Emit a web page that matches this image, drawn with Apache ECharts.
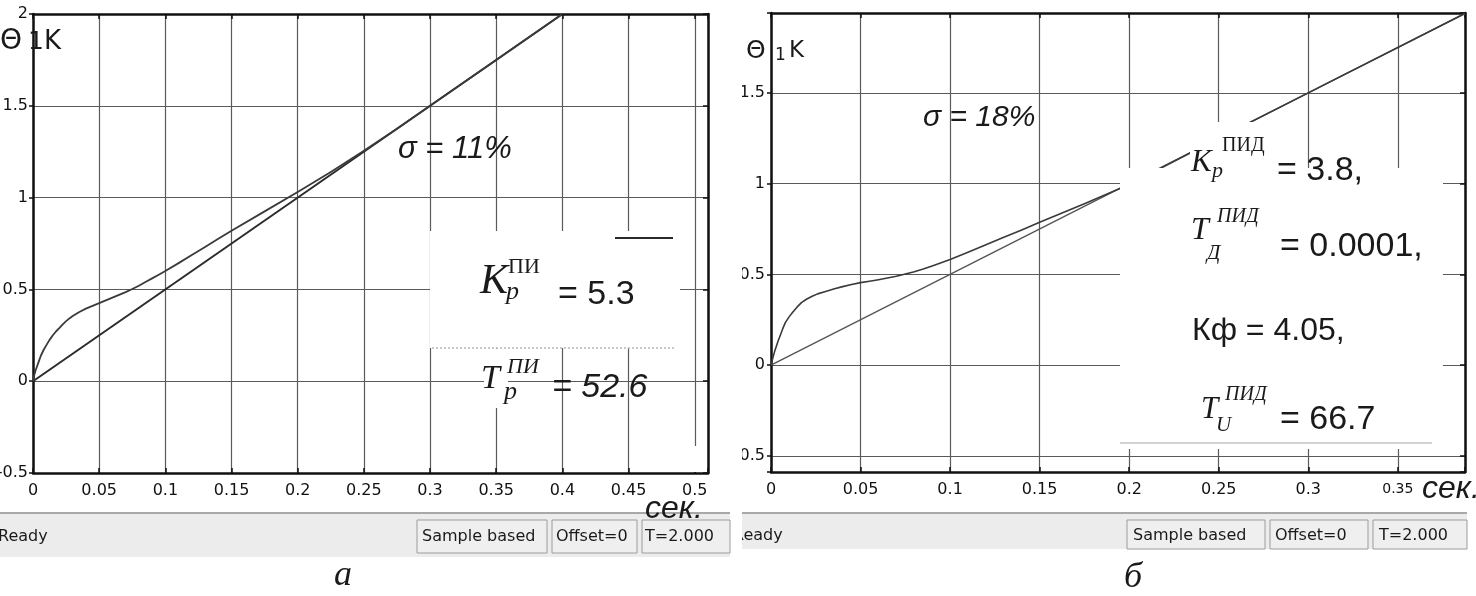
<!DOCTYPE html>
<html>
<head>
<meta charset="utf-8">
<script src="https://cdn.jsdelivr.net/npm/echarts@6/dist/echarts.min.js"></script>
<style>
html,body{margin:0;padding:0;background:#fff;}
#chart{width:1476px;height:596px;}
</style>
</head>
<body>
<div id="chart"></div>
<script>
// ---- data ----
// (а) PI controller
const leftTime = [0, 0.001, 0.002, 0.003, 0.004, 0.005, 0.006, 0.008, 0.01, 0.0125, 0.015, 0.0175, 0.02, 0.0225, 0.025, 0.0275, 0.03, 0.035, 0.04, 0.045, 0.05, 0.055, 0.06, 0.065, 0.07, 0.075, 0.08, 0.085, 0.09, 0.095, 0.1, 0.11, 0.12, 0.13, 0.14, 0.15, 0.175, 0.2, 0.225, 0.25, 0.275, 0.3, 0.35, 0.4];
const leftResponse = [0, 0.035, 0.06, 0.08, 0.1, 0.12, 0.14, 0.17, 0.195, 0.225, 0.25, 0.272, 0.29, 0.31, 0.327, 0.342, 0.355, 0.377, 0.395, 0.41, 0.425, 0.44, 0.455, 0.47, 0.485, 0.502, 0.52, 0.54, 0.56, 0.58, 0.6, 0.643, 0.687, 0.731, 0.776, 0.82, 0.925, 1.03, 1.14, 1.255, 1.375, 1.5, 1.75, 2.0];
const leftRampTime = [0, 0.4];
const leftRamp = [0, 2.0];
// (б) PID controller
const rightTime = [0, 0.001, 0.002, 0.003, 0.004, 0.005, 0.0065, 0.008, 0.01, 0.012, 0.0145, 0.017, 0.02, 0.023, 0.026, 0.03, 0.035, 0.04, 0.045, 0.05, 0.055, 0.06, 0.065, 0.07, 0.075, 0.08, 0.085, 0.09, 0.095, 0.1, 0.11, 0.12, 0.13, 0.14, 0.15, 0.175, 0.2, 0.25, 0.3, 0.3875];
const rightResponse = [0, 0.04, 0.075, 0.105, 0.135, 0.16, 0.2, 0.235, 0.265, 0.29, 0.32, 0.345, 0.365, 0.38, 0.393, 0.405, 0.42, 0.433, 0.445, 0.455, 0.463, 0.471, 0.48, 0.49, 0.502, 0.515, 0.53, 0.547, 0.565, 0.583, 0.622, 0.663, 0.705, 0.745, 0.787, 0.89, 0.995, 1.25, 1.5, 1.9375];
const rightRampTime = [0, 0.3875];
const rightRamp = [0, 1.9375];
// axis ranges
const leftX = [0, 0.51], leftY = [-0.5, 2];
const rightX = [0, 0.3875], rightY = [-0.588, 1.94];

const pairs = (xs, ys) => xs.map((x, i) => [x, ys[i]]);

const labelFont = {fontFamily: 'DejaVu Sans', fontSize: 16, color: '#111'};
const gridLine = {show: true, lineStyle: {color: '#5a5a5a', width: 1.2}};
const frame = {show: true, onZero: false, lineStyle: {color: '#111', width: 2.5}};
const isMult = (v, step) => Math.abs(v / step - Math.round(v / step)) < 1e-6;

function xFmt(v) { return isMult(v, 0.05) ? String(+v.toFixed(2)) : ''; }
function yFmt(v) { return isMult(v, 0.5) ? String(+v.toFixed(1)) : ''; }

const chart = echarts.init(document.getElementById('chart'), null, {renderer: 'canvas'});

const T = (text, x, y, font, extra) => Object.assign({
  type: 'text', x: x, y: y, z: 60,
  style: {text: text, font: font, fill: '#1a1a1a', align: 'left', verticalAlign: 'middle'}
}, extra || {});
const R = (x, y, w, h, fill, z, stroke) => ({
  type: 'rect', z: z || 50, shape: {x: x, y: y, width: w, height: h},
  style: {fill: fill, stroke: stroke || null, lineWidth: 1}
});
const L = (x1, y1, x2, y2, stroke, w, dash, z) => ({
  type: 'line', z: z || 55, shape: {x1: x1, y1: y1, x2: x2, y2: y2},
  style: {stroke: stroke, lineWidth: w, lineDash: dash || null}
});

const serifI = (s) => 'italic ' + s + 'px "Liberation Serif"';
const serif = (s) => s + 'px "Liberation Serif"';
const sans = (s) => s + 'px "Liberation Sans"';
const sansI = (s) => 'italic ' + s + 'px "Liberation Sans"';
const dv = (s) => s + 'px "DejaVu Sans"';

const graphics = [
  // overlays of the pasted formula pictures (left)
  R(430, 231, 250, 117, '#fff'),
  R(484, 349, 24, 59, '#fff'),
  R(689, 446, 10, 26, '#fff'),
  L(615, 238, 673, 238, '#2a2a2a', 2),
  L(432, 348, 675, 348, '#b8b8b8', 1.5, [2, 2]),
  // overlays (right)
  R(1120, 168, 323, 281, '#fff'),
  R(1190, 122, 110, 46, '#fff'),
  L(1120, 443, 1432, 443, '#c4c4c4', 1.5),

  // status bars
  R(0, 513, 730, 44, '#ececec', 40),
  L(0, 513, 730, 513, '#a8a8a8', 2, null, 41),
  R(417, 520, 130, 33, '#efefef', 41, '#9c9c9c'),
  R(552, 520, 85, 33, '#efefef', 41, '#9c9c9c'),
  R(642, 520, 88, 33, '#efefef', 41, '#9c9c9c'),
  T('Ready', -2, 537, dv(16)),
  T('Sample based', 422, 537, dv(16)),
  T('Offset=0', 556, 537, dv(16)),
  T('T=2.000', 645, 537, dv(16)),

  R(737, 513, 730, 36, '#ececec', 40),
  L(737, 513, 1467, 513, '#a8a8a8', 2, null, 41),
  R(1127, 520, 138, 29, '#efefef', 41, '#9c9c9c'),
  R(1270, 520, 98, 29, '#efefef', 41, '#9c9c9c'),
  R(1373, 520, 94, 29, '#efefef', 41, '#9c9c9c'),
  T('Ready', 733, 536, dv(16)),
  T('Sample based', 1133, 536, dv(16)),
  T('Offset=0', 1275, 536, dv(16)),
  T('T=2.000', 1379, 536, dv(16)),

  // axis titles
  T('Θ', 0, 42, dv(28)),
  T('1', 28, 42, dv(25)),
  T('K', 44, 42, dv(26)),
  T('Θ', 746, 51, dv(25)),
  T('1', 775, 56, dv(17)),
  T('K', 789, 51, dv(23)),
  T('сек.', 645, 509, sansI(32)),
  T('сек.', 1422, 489, sansI(32)),

  // left annotations
  T('σ = 11%', 398, 149, sansI(31)),
  T('K', 480, 282, serifI(42)),
  T('ПИ', 508, 267, serif(22)),
  T('p', 506, 292, serifI(26)),
  T('= 5.3', 558, 295, sans(34)),
  T('T', 481, 379, serifI(34)),
  T('ПИ', 507, 367, serifI(22)),
  T('p', 504, 392, serifI(26)),
  T('= 52.6', 552, 388, sansI(34)),

  // right annotations
  T('σ = 18%', 923, 118, sansI(30)),
  T('K', 1191, 163, serifI(31)),
  T('ПИД', 1222, 146, serif(20)),
  T('p', 1212, 171, serifI(22)),
  T('= 3.8,', 1277, 171, sans(34)),
  T('T', 1191, 231, serifI(32)),
  T('ПИД', 1217, 217, serifI(20)),
  T('Д', 1207, 253, serifI(21)),
  T('= 0.0001,', 1280, 247, sans(34)),
  T('Кф = 4.05,', 1192, 331, sans(32)),
  T('T', 1201, 410, serifI(31)),
  T('ПИД', 1225, 395, serifI(20)),
  T('U', 1216, 425, serifI(21)),
  T('= 66.7', 1280, 420, sans(34)),

  // panel letters
  T('а', 334, 576, serifI(36)),
  T('б', 1124, 578, serifI(36)),

  // gap between the two screenshots
  R(731, 0, 11, 596, '#fff', 70)
];

function xAxes(grid, range) {
  return [
    {type: 'value', gridIndex: grid, position: 'bottom', min: range[0], max: range[1], interval: 0.05,
     axisLine: frame, axisTick: {show: true, inside: true, length: 5, lineStyle: {color: '#111', width: 1.5}},
     axisLabel: Object.assign({margin: 10, formatter: xFmt,
       rich: {s: {fontFamily: 'DejaVu Sans', fontSize: 14, color: '#111', padding: [0, 0, 6, 0]}}}, labelFont),
     splitLine: gridLine},
    {type: 'value', gridIndex: grid, position: 'top', min: range[0], max: range[1], interval: 0.05,
     axisLine: frame, axisTick: {show: true, inside: true, length: 5, lineStyle: {color: '#111', width: 1.5}},
     axisLabel: {show: false}, splitLine: {show: false}}
  ];
}
function yAxes(grid, range, useInterval, margin) {
  const base = {type: 'value', gridIndex: grid, min: range[0], max: range[1]};
  if (useInterval) base.interval = 0.5; else base.splitNumber = 5;
  return [
    Object.assign({}, base, {position: 'left',
     axisLine: frame, axisTick: {show: true, inside: false, length: 4, lineStyle: {color: '#111', width: 1.5}},
     axisLabel: Object.assign({margin: margin, formatter: yFmt}, labelFont),
     splitLine: gridLine}),
    Object.assign({}, base, {position: 'right',
     axisLine: frame, axisTick: {show: true, inside: true, length: 5, lineStyle: {color: '#111', width: 1.5}},
     axisLabel: {show: false}, splitLine: {show: false}})
  ];
}

const rx = xAxes(1, rightX);
rx[0].axisLabel.formatter = function (v) {
  if (Math.abs(v - 0.35) < 1e-9) return '{s|0.35}';
  return xFmt(v);
};

const option = {
  animation: false,
  backgroundColor: '#fff',
  grid: [
    {left: 33, top: 14, width: 675, height: 459, outerBoundsMode: 'none', containLabel: false},
    {left: 771, top: 13, width: 694, height: 459, outerBoundsMode: 'none', containLabel: false}
  ],
  xAxis: xAxes(0, leftX).concat(rx),
  yAxis: yAxes(0, leftY, true, 5).concat(yAxes(1, rightY, false, 6)),
  series: [
    {type: 'line', xAxisIndex: 0, yAxisIndex: 0, data: pairs(leftRampTime, leftRamp), showSymbol: false,
     lineStyle: {color: '#2b2b2b', width: 2}, z: 3},
    {type: 'line', xAxisIndex: 0, yAxisIndex: 0, data: pairs(leftTime, leftResponse), showSymbol: false,
     lineStyle: {color: '#3a3a3a', width: 1.8, join: 'round'}, z: 3},
    {type: 'line', xAxisIndex: 2, yAxisIndex: 2, data: pairs(rightRampTime, rightRamp), showSymbol: false,
     lineStyle: {color: '#555', width: 1.4}, z: 3},
    {type: 'line', xAxisIndex: 2, yAxisIndex: 2, data: pairs(rightTime, rightResponse), showSymbol: false,
     lineStyle: {color: '#3a3a3a', width: 1.6, join: 'round'}, z: 3}
  ],
  graphic: {elements: graphics}
};
chart.setOption(option);
</script>
</body>
</html>
